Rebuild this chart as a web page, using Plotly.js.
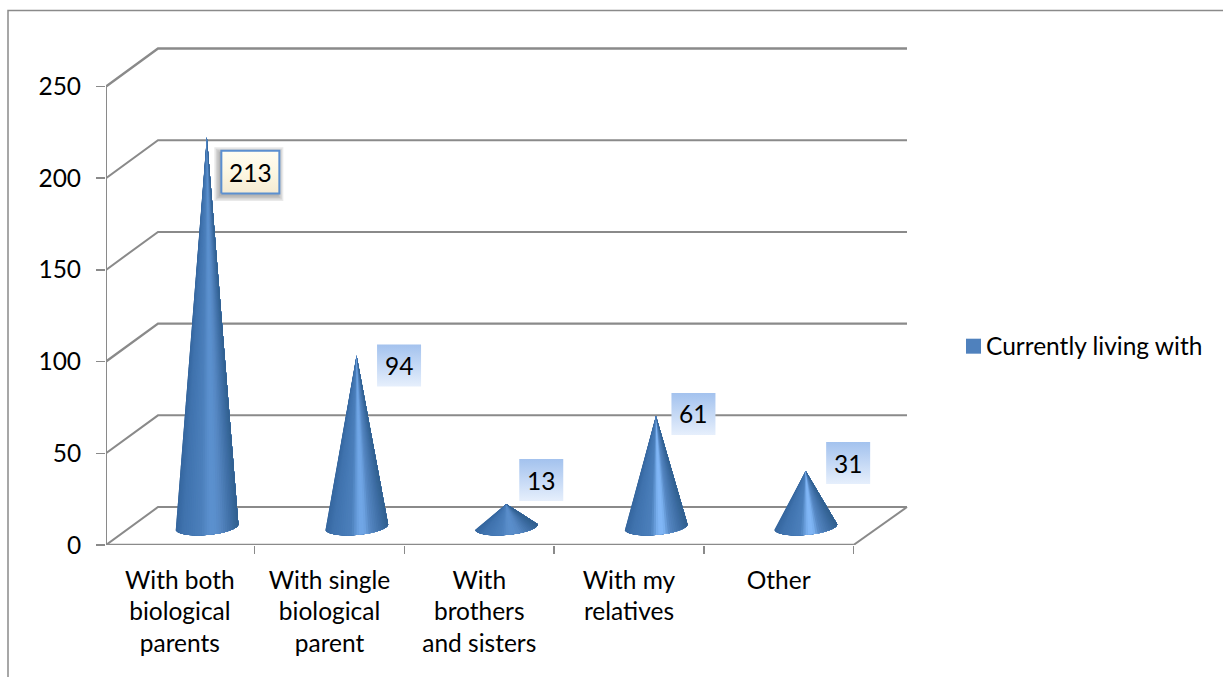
<!DOCTYPE html>
<html>
<head>
<meta charset="utf-8">
<script src="https://cdn.plot.ly/plotly-3.0.1.min.js"></script>
<style>html,body{margin:0;padding:0;background:#fff;overflow:hidden}</style>
</head>
<body>
<div id="chart" style="width:1223px;height:677px"></div>
<script>
// Chart data
const seriesName = 'Currently living with';
const categories = ['With both<br>biological<br>parents', 'With single<br>biological<br>parent', 'With<br>brothers<br>and sisters', 'With my<br>relatives', 'Other'];
const values = [213, 94, 13, 61, 31];
const valueTicks = [0, 50, 100, 150, 200, 250];

// Cone highlight colour, one per category
const highlights = ['#5b90ce', '#70a6e6', '#5a8ecb', '#80b6f6', '#80b6f6'];
// Data label offsets from each cone's apex, in pixels (right, down)
const labelOffsets = [[43.5, 35], [42.5, 10], [35, -24], [37.5, -2], [42.5, -8]];
const labelSizes = [[58, 43], [44, 42], [44, 42], [44, 42], [44, 42]];

// Plot geometry
const W = 1223, H = 677;
const m = {l: 106, r: 308, t: 30, b: 131.5};
const pxPerCat = 149.7, pxPerVal = 1.836;
const xLeft = -0.5 + 1 / pxPerCat;
const xRight = xLeft + (W - m.l - m.r) / pxPerCat;
const yTop = (H - m.t - m.b) / pxPerVal;
const depthX = 52 / pxPerCat, depthY = 38 / pxPerVal;
const wallEnd = xLeft + (907 - m.l) / pxPerCat;
const lineColor = '#8a8a8a';
const seriesColor = '#4f81bd';
const fontFamily = 'Lato, sans-serif';
const fontSize = 24.5;

const traces = [];
function addLine(xs, ys, width) {
  traces.push({type: 'scatter', mode: 'lines', x: xs, y: ys, cliponaxis: false, showlegend: false, hoverinfo: 'skip',
    line: {color: lineColor, width: width}});
}
// Back wall and side wall gridlines
valueTicks.forEach(v => {
  const heavy = v === 250 || v === 100;
  addLine([xLeft, xLeft + depthX, wallEnd], [v, v + depthY, v + depthY], heavy ? 2.4 : 2);
});
// Floor edge, front axis and value axis
addLine([4.5, wallEnd], [0, depthY], 2);
addLine([-0.5, 4.5], [0, 0], 2.4);
addLine([xLeft, xLeft], [0, valueTicks[valueTicks.length - 1]], 2);

// Cone shading across the visible half of the surface
function hexToRgb(h) { return [1, 3, 5].map(i => parseInt(h.slice(i, i + 2), 16)); }
function shade(p, hi) {
  const stops = [[0, '#35669e'], [0.12, '#3f72ad'], [0.42, '#4c80bc'], [0.54, hi], [0.62, hi], [0.72, '#5587c2'], [0.88, '#3f6fa6'], [1, '#31608f']];
  for (let i = 1; i < stops.length; i++) {
    if (p <= stops[i][0]) {
      const f = (p - stops[i - 1][0]) / (stops[i][0] - stops[i - 1][0]);
      const a = hexToRgb(stops[i - 1][1]), b = hexToRgb(stops[i][1]);
      return 'rgb(' + a.map((c, k) => Math.round(c + (b[k] - c) * f)).join(',') + ')';
    }
  }
  return stops[stops.length - 1][1];
}
const coneRx = 31.5 / pxPerCat, coneRy = 8.3 / pxPerVal, coneTilt = 2.5 / pxPerVal;
const facets = 40;
// Each facet runs from its left edge to the right rim and is painted over the previous one,
// so neighbouring facets share no seam.
values.forEach((v, i) => {
  const cx = i + 0.5 * depthX + 1 / pxPerCat, cy = 0.5 * depthY - 0.4;
  const apexY = v + 0.5 * depthY - 1;
  const rim = t => [cx + coneRx * Math.cos(t), cy - coneRy * Math.sin(t) + coneTilt * Math.cos(t)];
  for (let k = 0; k < facets; k++) {
    const xs = [cx], ys = [apexY];
    for (let j = k; j <= facets; j++) {
      const pt = rim(Math.PI - Math.PI * j / facets);
      xs.push(pt[0]); ys.push(pt[1]);
    }
    xs.push(cx); ys.push(apexY);
    const col = shade((1 - Math.cos(Math.PI * (k + 0.5) / facets)) / 2, highlights[i]);
    traces.push({type: 'scatter', mode: 'lines', fill: 'toself', fillcolor: col, showlegend: false, hoverinfo: 'skip',
      x: xs, y: ys, line: {width: 0}});
  }
});

// Data label boxes
const annotations = [];
function rect(cx, cy, w, h) {
  return {x: [cx - w / 2, cx + w / 2, cx + w / 2, cx - w / 2, cx - w / 2], y: [cy - h / 2, cy - h / 2, cy + h / 2, cy + h / 2, cy - h / 2]};
}
values.forEach((v, i) => {
  const lx = i + 0.5 * depthX + 1 / pxPerCat + labelOffsets[i][0] / pxPerCat;
  const ly = v + 0.5 * depthY - 1 - labelOffsets[i][1] / pxPerVal;
  const w = labelSizes[i][0] / pxPerCat, h = labelSizes[i][1] / pxPerVal;
  const box = rect(lx, ly, w, h);
  if (i === 0) {
    // Highlighted point: soft shadow under a cream label with a blue border
    [11, 8, 5, 2].forEach(g => {
      const s = rect(lx - 1.5 / pxPerCat, ly - 2 / pxPerVal, w + g / pxPerCat, h + g / pxPerVal);
      traces.push({type: 'scatter', mode: 'lines', fill: 'toself', fillcolor: 'rgba(70,70,70,0.12)', showlegend: false, hoverinfo: 'skip',
        x: s.x, y: s.y, line: {width: 0}});
    });
    traces.push({type: 'scatter', mode: 'lines', fill: 'toself', showlegend: false, hoverinfo: 'skip', x: box.x, y: box.y,
      fillgradient: {type: 'vertical', colorscale: [[0, '#f4ead2'], [0.5, '#fdf7e2'], [1, '#fffdf2']]},
      line: {color: '#5b8fd0', width: 2}});
  } else {
    traces.push({type: 'scatter', mode: 'lines', fill: 'toself', showlegend: false, hoverinfo: 'skip', x: box.x, y: box.y,
      fillgradient: {type: 'vertical', colorscale: [[0, '#e6effc'], [1, '#a3c2ee']]},
      line: {width: 0}});
  }
  annotations.push({x: lx, y: ly, xref: 'x', yref: 'y', text: String(v), showarrow: false,
    font: {family: fontFamily, size: fontSize, color: '#000'}});
});

// Legend entry for the series; its swatch sits closer to the text than a legend marker can,
// so the square is drawn as a shape beside the entry
traces.push({type: 'scatter', mode: 'markers', name: seriesName, x: [null], y: [null], hoverinfo: 'skip',
  marker: {symbol: 'square', size: 16, color: 'rgba(0,0,0,0)'}});

const boundaries = [-0.5, 0.5, 1.5, 2.5, 3.5, 4.5];
const plotW = W - m.l - m.r, plotH = H - m.t - m.b;
const paperX = px => (px - m.l) / plotW;
const paperY = px => (H - m.b - px) / plotH;
const layout = {
  width: W, height: H, margin: m, paper_bgcolor: '#fff', plot_bgcolor: 'rgba(0,0,0,0)',
  font: {family: fontFamily, size: fontSize, color: '#000'},
  xaxis: {type: 'linear', range: [xLeft, xRight], tickmode: 'array', tickvals: categories.map((c, i) => i), ticktext: categories,
    ticks: '', showgrid: false, zeroline: false, showline: false, tickangle: 0, ticklabelstandoff: 18,
    minor: {tickmode: 'array', tickvals: boundaries, ticks: 'outside', ticklen: 8, tickwidth: 1.5, tickcolor: lineColor, showgrid: false}},
  yaxis: {range: [0, yTop], tickmode: 'array', tickvals: valueTicks, ticks: 'outside', ticklen: 9, tickwidth: 1.5, tickcolor: lineColor,
    showgrid: false, zeroline: false, showline: false, ticklabelstandoff: 10},
  legend: {x: paperX(959), y: paperY(346), xanchor: 'left', yanchor: 'middle', bgcolor: 'rgba(0,0,0,0)', indentation: -13,
    font: {family: fontFamily, size: fontSize, color: '#000'}, itemclick: false, itemdoubleclick: false},
  annotations: annotations,
  shapes: [
    {type: 'path', xref: 'paper', yref: 'paper', layer: 'below',
      path: 'M ' + paperX(8) + ' ' + paperY(680) + ' L ' + paperX(8) + ' ' + paperY(10.5) + ' L ' + paperX(1226) + ' ' + paperY(10.5),
      line: {color: lineColor, width: 1.5}},
    {type: 'rect', xref: 'paper', yref: 'paper', x0: paperX(966), x1: paperX(981), y0: paperY(354), y1: paperY(339),
      fillcolor: seriesColor, line: {width: 0}}
  ]
};
Plotly.newPlot('chart', traces, layout, {displayModeBar: false, staticPlot: true});
</script>
</body>
</html>
